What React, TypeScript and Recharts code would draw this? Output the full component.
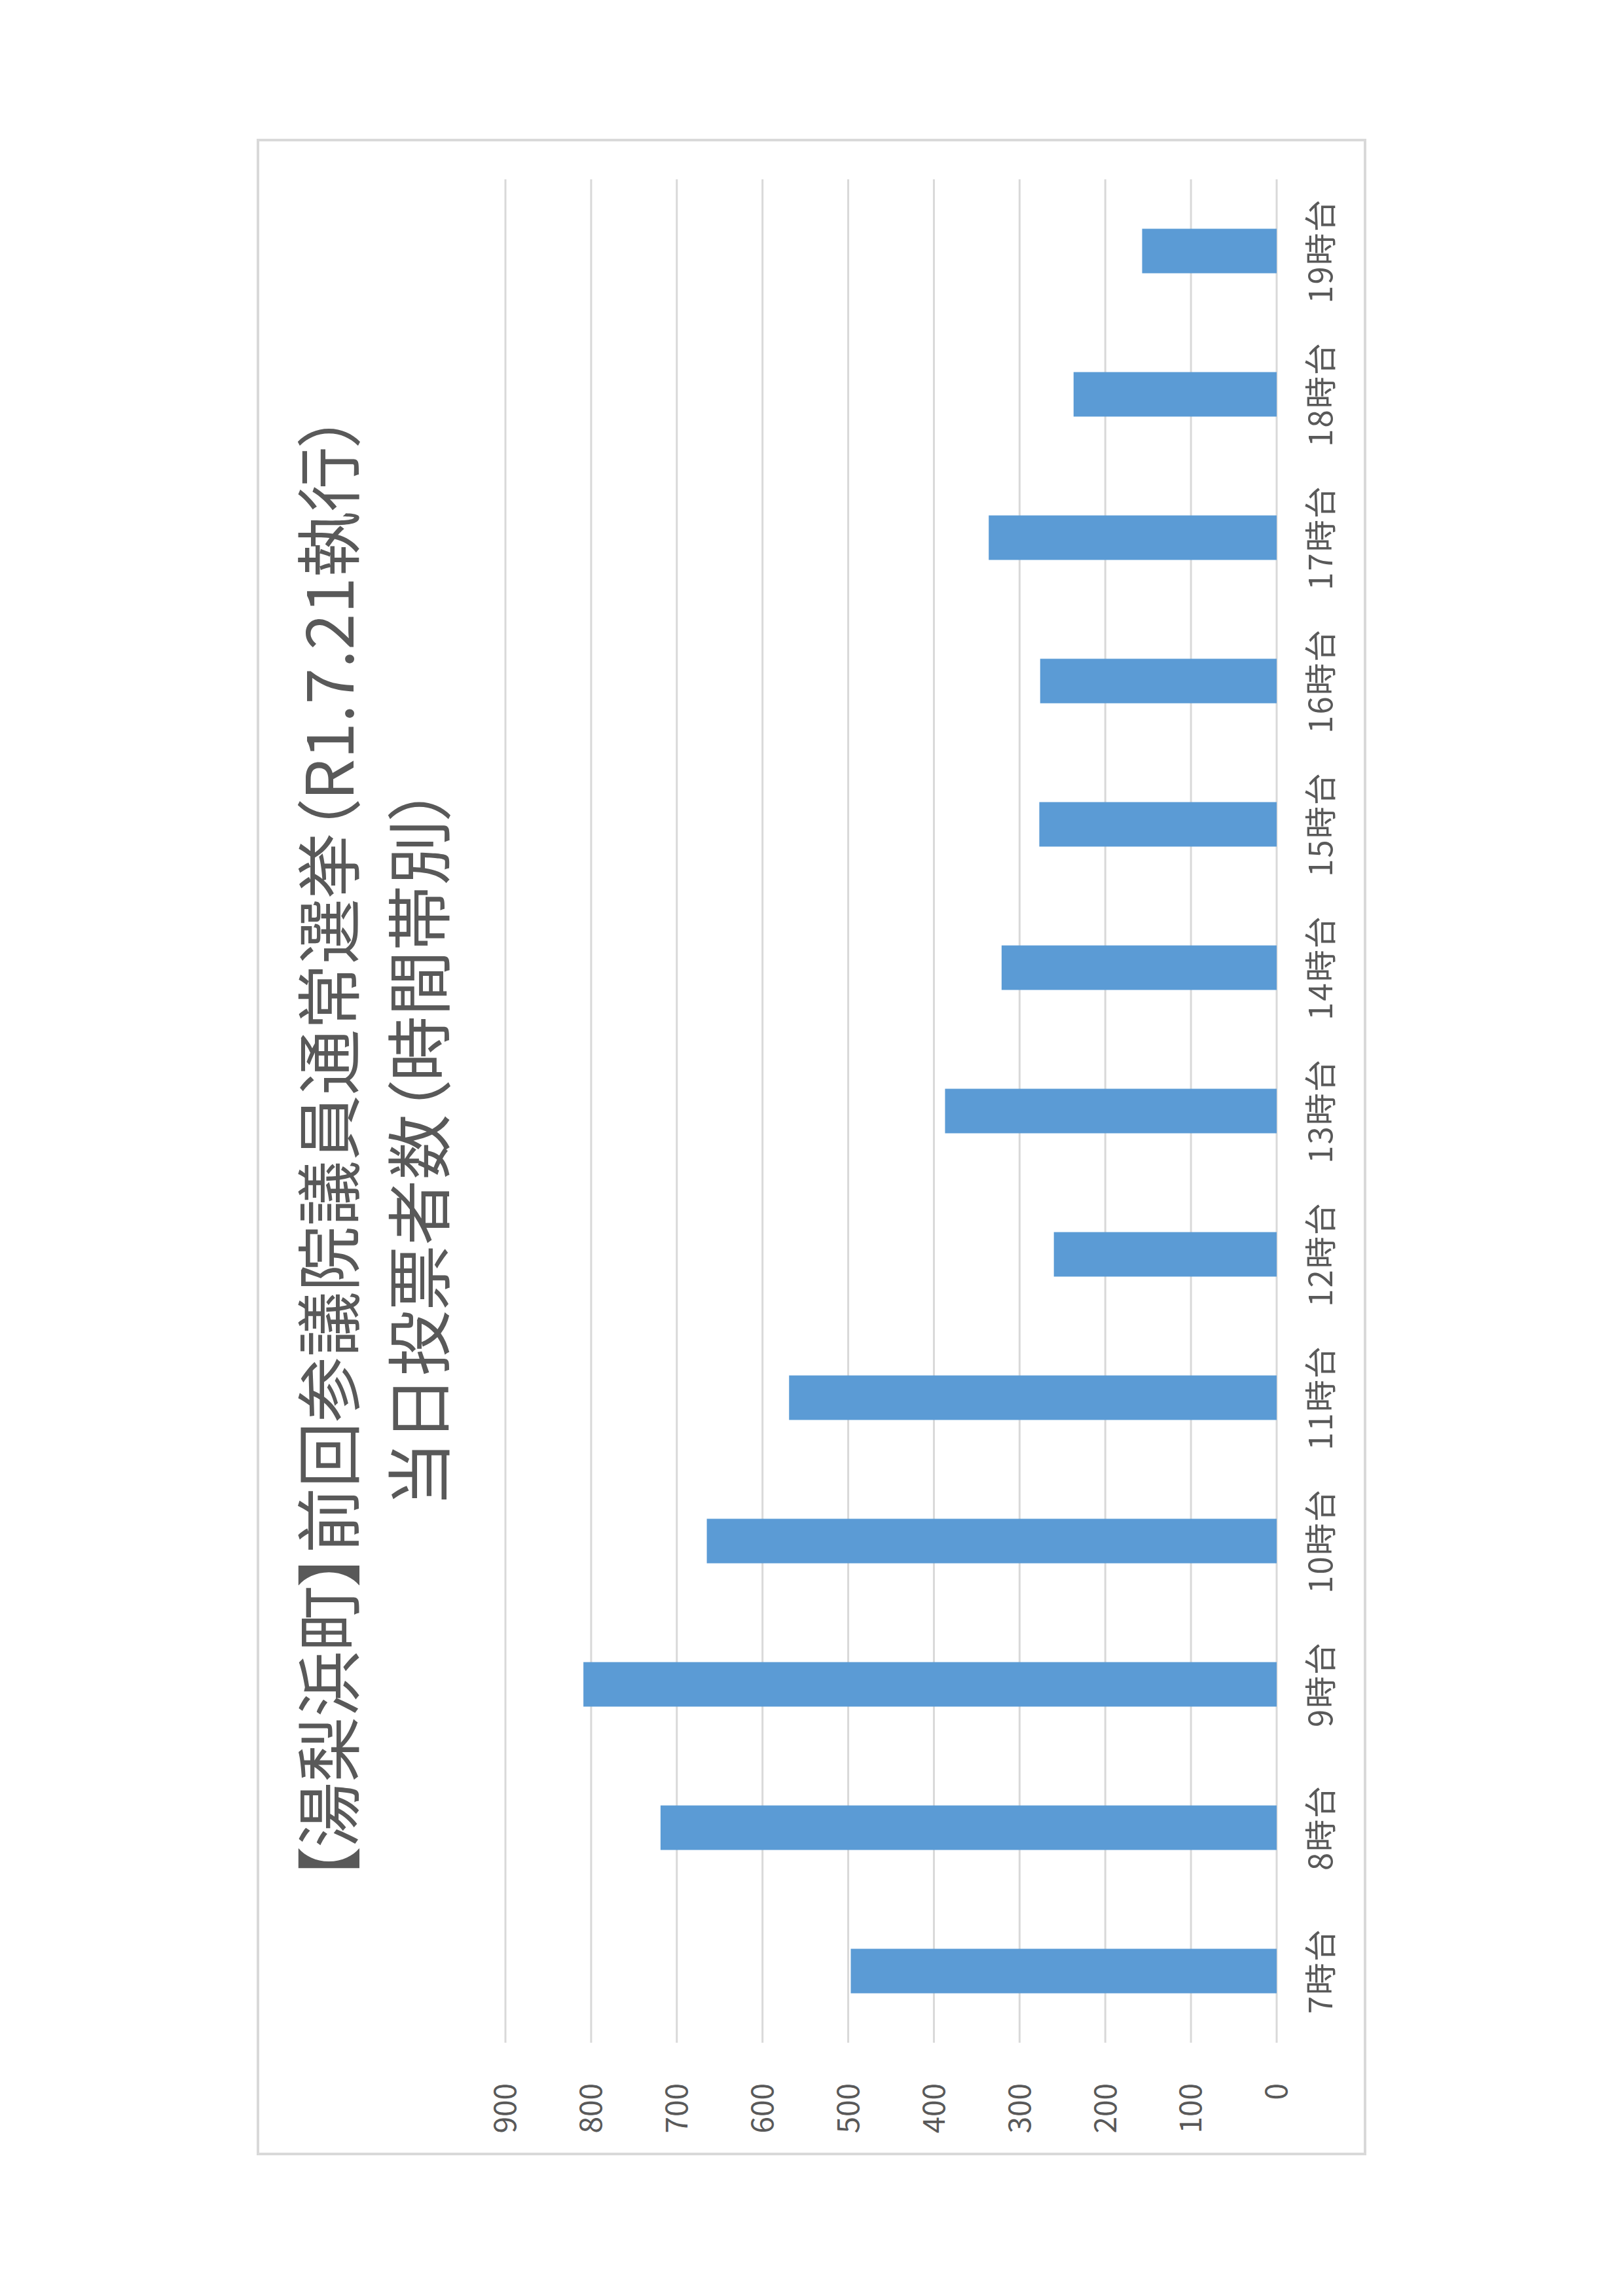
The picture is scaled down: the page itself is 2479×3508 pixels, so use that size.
import { BarChart, Bar, XAxis, YAxis, CartesianGrid } from "recharts";

const hours = [
  "7時台", "8時台", "9時台", "10時台", "11時台", "12時台", "13時台",
  "14時台", "15時台", "16時台", "17時台", "18時台", "19時台",
];
const voters = [497, 719, 809, 665, 569, 260, 387, 321, 277, 276, 336, 237, 157];
const valueTicks = [0, 100, 200, 300, 400, 500, 600, 700, 800, 900];
const titleLines = [
  "【湯梨浜町】前回参議院議員通常選挙（R1.7.21執行）",
  "当日投票者数（時間帯別）",
];

const data = hours.map((hour, i) => ({ hour, count: voters[i] }));

const FONT = '"Noto Sans CJK JP", "Noto Sans", sans-serif';
const TEXT = "#595959";
const GRID = "#d9d9d9";

// chart is laid out landscape, then turned 90deg to sit on the portrait page
const W = 3081;
const H = 1695;
const CX = 1239.5;
const CY = 1752.5;

export default function App() {
  return (
    <div
      style={{
        position: "absolute",
        left: 0,
        top: 0,
        width: 2479,
        height: 3508,
        background: "#fff",
        overflow: "hidden",
        fontFamily: FONT,
      }}
    >
      <div
        style={{
          position: "absolute",
          left: CX - W / 2,
          top: CY - H / 2,
          width: W,
          height: H,
          transform: "rotate(-90deg)",
          transformOrigin: "center center",
          background: "#fff",
        }}
      >
        <BarChart
          width={W}
          height={H}
          data={data}
          margin={{ top: 380, right: 62, bottom: 0, left: 0 }}
          barCategoryGap="34.5%"
        >
          <CartesianGrid vertical={false} stroke={GRID} strokeWidth={3} />
          <XAxis
            dataKey="hour"
            height={137}
            axisLine={false}
            tickLine={false}
            tickSize={0}
            tickMargin={50}
            interval={0}
            tick={{ fill: TEXT, fontSize: 49, fontFamily: FONT, letterSpacing: 2 }}
          />
          <YAxis
            type="number"
            domain={[0, 900]}
            ticks={valueTicks}
            width={172}
            axisLine={false}
            tickLine={false}
            tickSize={0}
            tickMargin={62}
            tick={{ fill: TEXT, fontSize: 46, fontFamily: FONT }}
          />
          <Bar dataKey="count" fill="#5b9bd5" isAnimationActive={false} />
        </BarChart>

        {titleLines.map((line, i) => (
          <div
            key={i}
            style={{
              position: "absolute",
              left: 0,
              width: W,
              top: (i === 0 ? 110 : 248) - 60 - 5,
              height: 120,
              lineHeight: "120px",
              textAlign: "center",
              fontSize: 100,
              fontFeatureSettings: '"palt"',
              color: TEXT,
              whiteSpace: "nowrap",
            }}
          >
            {line}
          </div>
        ))}

        <div
          style={{
            position: "absolute",
            inset: 0,
            border: `4px solid ${GRID}`,
            pointerEvents: "none",
          }}
        />
      </div>
    </div>
  );
}
